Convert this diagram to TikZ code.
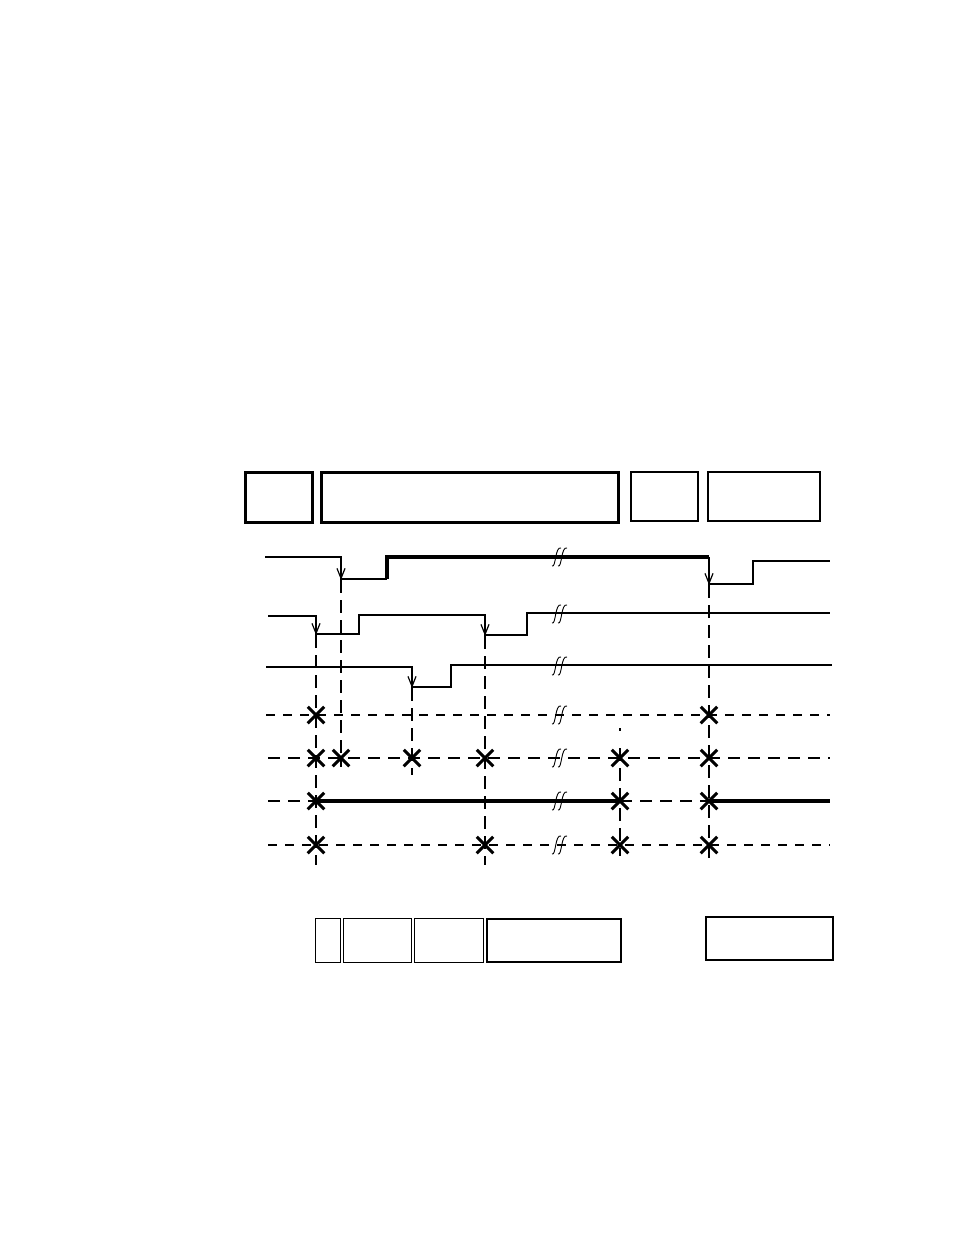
\documentclass[tikz,border=0pt]{standalone}
\usetikzlibrary{arrows.meta,shapes.misc}
\tikzset{
  slotbox/.style={draw, line width=2.6pt, inner sep=0pt},
  thinbox/.style={draw, line width=1.6pt, inner sep=0pt},
  xmark/.style={draw, cross out, line width=3pt, minimum size=13.5pt, inner sep=0pt},
  sig/.style={line width=1.3pt},
  drop/.style={line width=1.2pt, -{Straight Barb[length=10pt,width=8pt]}},
  tline/.style={line width=1.1pt, dash pattern=on 13pt off 7pt},
  brk/.style={line width=0.9pt}
}
\begin{document}
\begin{tikzpicture}[x=1pt, y=-1pt]
	\useasboundingbox (0,0) rectangle (954,1237);
	% upper row of frames
	\node[slotbox, minimum width=67pt, minimum height=50pt] (f1) at (279,497.5) {};
	\node[slotbox, minimum width=297pt, minimum height=50pt] (f2) at (470,497.5) {};
	\node[slotbox, line width=2pt, minimum width=67pt, minimum height=49pt] (f3) at (664.5,496.5) {};
	\node[slotbox, line width=2pt, minimum width=112pt, minimum height=49pt] (f4) at (764,496.5) {};
	% waveforms
	\draw[sig] (265,557) -- (341,557) -- (341,579) -- (387,579);
	\draw[line width=3.2pt] (387,579) -- (387,557) -- (709,557);
	\draw[sig] (709,557) -- (709,584) -- (753,584) -- (753,561) -- (830,561);
	\draw[sig] (268,616) -- (316,616) -- (316,634) -- (359,634) -- (359,615) -- (485,615) -- (485,635) -- (527,635) -- (527,613) -- (830,613);
	\draw[sig] (266,667) -- (412,667) -- (412,687) -- (451,687) -- (451,665) -- (832,665);
	\draw[drop] (341,557) -- (341,580);
	\draw[drop] (709,557) -- (709,585);
	\draw[drop] (316,616) -- (316,635);
	\draw[drop] (485,615) -- (485,636);
	\draw[drop] (412,667) -- (412,688);
	% time markers
	\draw[tline] (316,635) -- (316,865);
	\draw[tline] (341,580) -- (341,767);
	\draw[tline] (412,688) -- (412,775);
	\draw[tline] (485,636) -- (485,865);
	\draw[tline] (709,585) -- (709,865);
	\draw[line width=2pt] (620,728) -- (620,731);
	\draw[tline, line width=2.2pt] (620,748) -- (620,856);
	% event rows
	\draw[line width=1.1pt, dash pattern=on 9pt off 8pt] (266,715) -- (830,715);
	\draw[line width=2pt, dash pattern=on 12pt off 8pt] (268,758) -- (830,758);
	\draw[line width=2pt, dash pattern=on 12pt off 8pt] (268,801) -- (316,801);
	\draw[line width=3.4pt] (316,801) -- (620,801);
	\draw[line width=2pt, dash pattern=on 12pt off 8pt] (620,801) -- (709,801);
	\draw[line width=3.4pt] (709,801) -- (830,801);
	\draw[line width=1.1pt, dash pattern=on 9pt off 8pt] (268,845) -- (830,845);
	% break marks
	\foreach \y in {557,614,666,715,758,801,845} {
		\draw[brk] (552,{\y+9}) .. controls (556,{\y+11}) and (555,{\y-11}) .. (561,{\y-9});
		\draw[brk] (558,{\y+9}) .. controls (562,{\y+11}) and (561,{\y-11}) .. (567,{\y-9});
	}
	% crossings
	\node[xmark] (a1) at (316,715) {};
	\node[xmark] (a2) at (709,715) {};
	\node[xmark] (b1) at (316,758) {};
	\node[xmark] (b2) at (341,758) {};
	\node[xmark] (b3) at (412,758) {};
	\node[xmark] (b4) at (485,758) {};
	\node[xmark] (b5) at (620,758) {};
	\node[xmark] (b6) at (709,758) {};
	\node[xmark] (c1) at (316,801) {};
	\node[xmark] (c2) at (620,801) {};
	\node[xmark] (c3) at (709,801) {};
	\node[xmark] (d1) at (316,845) {};
	\node[xmark] (d2) at (485,845) {};
	\node[xmark] (d3) at (620,845) {};
	\node[xmark] (d4) at (709,845) {};
	% lower row of frames
	\node[thinbox, minimum width=25pt, minimum height=44pt] (g1) at (328,940.5) {};
	\node[thinbox, minimum width=68pt, minimum height=44pt] (g2) at (377.5,940.5) {};
	\node[thinbox, minimum width=69pt, minimum height=44pt] (g3) at (449,940.5) {};
	\node[slotbox, line width=2.2pt, minimum width=134pt, minimum height=43pt] (g4) at (554,940.5) {};
	\node[slotbox, line width=2.2pt, minimum width=127pt, minimum height=43pt] (g5) at (769.5,938.5) {};
\end{tikzpicture}
\end{document}
